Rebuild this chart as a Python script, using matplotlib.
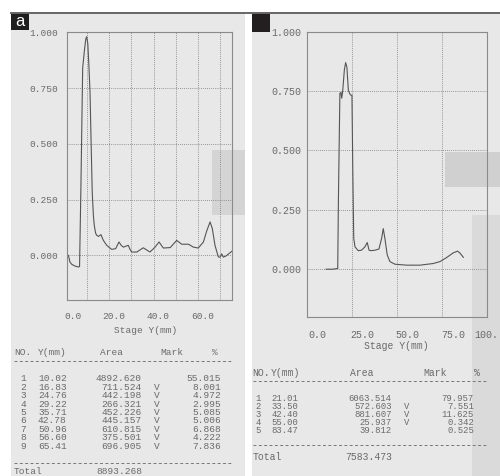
import matplotlib.pyplot as plt
import matplotlib.transforms as mtransforms
from matplotlib.patches import Rectangle

# densitometer scans
left_x = [1.8, 2.5, 3.3, 4.8, 6.3, 6.8, 7.4, 8.2, 9.0, 9.6, 10.0, 10.5, 11.0, 11.5,
          12.0, 12.5, 13.0, 13.4, 14.0, 14.5, 15.3, 16.4, 17.5, 19.0, 21.2, 23.0,
          24.5, 25.5, 26.5, 27.8, 28.7, 29.4, 30.2, 32.5, 35.4, 38.4, 40.5, 42.5,
          44.4, 47.5, 50.4, 52.7, 55.7, 57.9, 60.1, 62.4, 63.9, 65.4, 66.4, 67.6,
          69.1, 69.9, 70.6, 71.3, 72.5, 75.1]
left_y = [0.0, -0.03, -0.04, -0.048, -0.052, -0.05, 0.3, 0.84, 0.92, 0.97, 0.98, 0.95,
          0.85, 0.73, 0.5, 0.28, 0.18, 0.135, 0.1, 0.09, 0.085, 0.093, 0.067, 0.045,
          0.027, 0.03, 0.06, 0.045, 0.037, 0.042, 0.045, 0.028, 0.015, 0.015, 0.034,
          0.015, 0.035, 0.06, 0.033, 0.035, 0.067, 0.05, 0.05, 0.037, 0.033, 0.06,
          0.11, 0.15, 0.12, 0.045, -0.007, -0.008, 0.007, -0.008, -0.003, 0.018]

right_x = [10.4, 14.0, 16.9, 17.3, 18.1, 18.7, 19.1, 19.6, 20.6, 21.3, 22.0, 22.8, 23.5,
           24.1, 24.8, 25.3, 25.8, 26.5, 28.3, 30.1, 32.0, 33.3, 34.3, 35.4, 37.6,
           39.8, 41.3, 42.2, 43.1, 44.4, 45.9, 48.7, 55.2, 62.6, 70.0, 73.7, 77.4,
           81.1, 83.5, 84.8, 86.7]
right_y = [0.0, 0.0, 0.003, 0.3, 0.74, 0.745, 0.72, 0.745, 0.84, 0.87, 0.85, 0.755,
           0.74, 0.733, 0.733, 0.4, 0.13, 0.094, 0.078, 0.08, 0.094, 0.1125, 0.08,
           0.078, 0.08, 0.085, 0.13, 0.171, 0.13, 0.06, 0.032, 0.021, 0.017, 0.017,
           0.024, 0.032, 0.049, 0.069, 0.076, 0.068, 0.05]

y_ticks = [0.0, 0.25, 0.5, 0.75, 1.0]
left_grid = [10, 20, 30, 40, 50, 60, 70]
left_xticks = [0, 20, 40, 60]
left_xlabels = ['0.0', '20.0', '40.0', '60.0']
right_grid = [25, 50, 75]
right_xticks = [0, 25, 50, 75, 100]
right_xlabels = ['0.0', '25.0', '50.0', '75.0', '100.']

# peak tables
left_no = [1, 2, 3, 4, 5, 6, 7, 8, 9]
left_pos = ['10.02', '16.83', '24.76', '29.22', '35.71', '42.78', '50.96', '56.60', '65.41']
left_area = ['4892.620', '711.524', '442.198', '266.321', '452.226', '445.157',
             '610.815', '375.501', '696.905']
left_mark = ['', 'V', 'V', 'V', 'V', 'V', 'V', 'V', 'V']
left_pct = ['55.015', '8.001', '4.972', '2.995', '5.085', '5.006', '6.868', '4.222', '7.836']
left_total = '8893.268'

right_no = [1, 2, 3, 4, 5]
right_pos = ['21.01', '33.50', '42.40', '55.00', '83.47']
right_area = ['6063.514', '572.603', '881.607', '25.937', '39.812']
right_mark = ['', 'V', 'V', 'V', '']
right_pct = ['79.957', '7.551', '11.625', '0.342', '0.525']
right_total = '7583.473'

W, H = 500, 476
MONO = 'Liberation Mono'
INK = '#6a6a6a'

fig = plt.figure(figsize=(W / 100, H / 100), dpi=100)
fig.patch.set_facecolor('white')

# background layer in pixel coords
bg = fig.add_axes([0, 0, 1, 1], zorder=-1)
bg.set_xlim(0, W)
bg.set_ylim(H, 0)
bg.axis('off')
bg.add_patch(Rectangle((11, 13), 234, 463, color='#e8e8e8', lw=0))
bg.add_patch(Rectangle((252, 13), 248, 463, color='#e8e8e8', lw=0))
bg.add_patch(Rectangle((212, 150), 33, 65, color='#d4d4d4', lw=0))
bg.add_patch(Rectangle((445, 152), 55, 35, color='#d0d0d0', lw=0))
bg.add_patch(Rectangle((472, 215), 28, 261, color='#dadada', lw=0))
bg.plot([11, 500], [12.7, 12.7], color='#666666', lw=1.4)
bg.add_patch(Rectangle((11, 13), 18, 17, color='#1e1e1e', lw=0))
bg.text(20, 21.5, 'a', color='white', fontsize=12, ha='center', va='center',
        family='Liberation Sans')
bg.add_patch(Rectangle((252, 13), 18, 19, color='#231f20', lw=0))


def px_rect(x0, y0, x1, y1):
    return [x0 / W, 1 - y1 / H, (x1 - x0) / W, (y1 - y0) / H]


def setup_axes(rect, xs, ys, xlim, grid, xticks, xlabels, fsize, ypad, dxs, dy):
    ax = fig.add_axes(rect)
    ax.patch.set_alpha(0)
    ax.plot(xs, ys, color='#555555', lw=0.8)
    ax.set_xlim(*xlim)
    ax.set_ylim(-0.2, 1.0)
    ax.set_xticks(grid)
    ax.set_xticklabels([])
    ax.set_yticks(y_ticks)
    ax.set_yticklabels(['%.3f' % v for v in y_ticks], family=MONO,
                       fontsize=fsize, color=INK)
    ax.tick_params(length=0, pad=ypad)
    ax.grid(True, ls=(0, (1, 1.5)), color='#7a7a7a', lw=0.6)
    for s in ax.spines.values():
        s.set_color('#8a8a8a')
        s.set_linewidth(0.8)
    base = mtransforms.blended_transform_factory(ax.transData, ax.transAxes)
    for v, lab, dx in zip(xticks, xlabels, dxs):
        tr = base + mtransforms.ScaledTranslation(dx / 100, -dy / 100,
                                                  fig.dpi_scale_trans)
        ax.text(v, 0, lab, transform=tr, ha='center', va='center',
                family=MONO, fontsize=fsize, color=INK, clip_on=False)
    return ax


setup_axes(px_rect(67.3, 32.3, 231.7, 300), left_x, left_y, (1.3, 75.1),
           left_grid, left_xticks, left_xlabels, 6.8, 6.5, [9, 5, 5, 5], 16.7)
setup_axes(px_rect(307.3, 31.7, 487.3, 316.7), right_x, right_y, (0, 100),
           right_grid, right_xticks, right_xlabels, 7.2, 4.5,
           [10, 10.5, 10.5, 10.5, -0.5], 18.3)


def table(x_no, x_pos, x_area, x_mark, x_pct, x_end, hx, y_head, y_row0, step,
          y_dash2, y_total, y_stage, x_stage, fsize, rsize,
          nos, pos, area, mark, pct, total):
    kw = dict(family=MONO, fontsize=fsize, color=INK, va='center')
    rkw = dict(kw, fontsize=rsize)
    bg.text(x_stage, y_stage, 'Stage Y(mm)', ha='center', **kw)
    bg.text(hx[0], y_head, 'NO.', ha='left', **kw)
    bg.text(hx[1], y_head, 'Y(mm)', ha='left', **kw)
    bg.text(hx[2], y_head, 'Area', ha='left', **kw)
    bg.text(hx[3], y_head, 'Mark', ha='left', **kw)
    bg.text(hx[4], y_head, '%', ha='center', **kw)
    for yy in (y_head + 8, y_dash2):
        bg.plot([hx[0], x_end], [yy, yy], color='#777777', lw=0.7,
                ls=(0, (3, 2.5)))
    for i in range(len(nos)):
        yy = y_row0 + i * step
        bg.text(x_no, yy, str(nos[i]), ha='right', **rkw)
        bg.text(x_pos, yy, pos[i], ha='left', **rkw)
        bg.text(x_area, yy, area[i], ha='right', **rkw)
        bg.text(x_mark, yy, mark[i], ha='center', **rkw)
        bg.text(x_pct, yy, pct[i], ha='right', **rkw)
    bg.text(hx[0], y_total, 'Total', ha='left', **kw)
    bg.text(x_area, y_total, total, ha='right', **kw)


table(26, 38, 142, 157, 221, 232, (14, 38, 100, 160, 215),
      352.7, 378.7, 8.45, 463, 472, 330.7, 146, 6.8, 6.8,
      left_no, left_pos, left_area, left_mark, left_pct, left_total)
table(261, 271.7, 391.7, 406.7, 474, 487, (252.7, 270.7, 350, 423, 476.7),
      372.7, 398.5, 8.0, 445, 456.7, 346, 396, 7.0, 6.4,
      right_no, right_pos, right_area, right_mark, right_pct, right_total)

fig.savefig('out.png', dpi=100)
